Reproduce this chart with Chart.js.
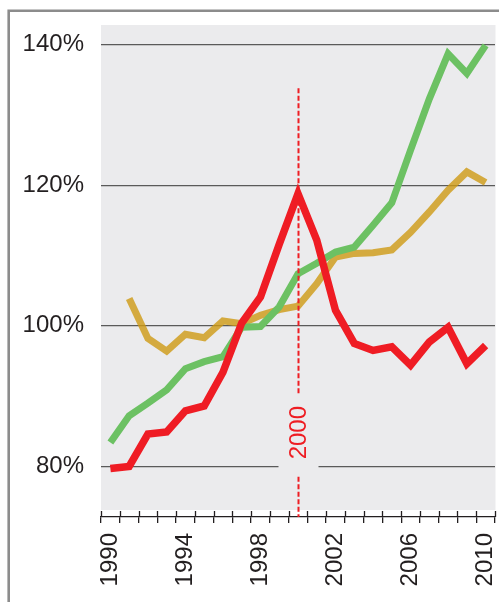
<!DOCTYPE html>
<html>
<head>
<meta charset="utf-8">
<script src="https://cdn.jsdelivr.net/npm/chart.js@4.4.1/dist/chart.umd.min.js"></script>
<style>
  html, body { margin: 0; padding: 0; background: #fff; }
  #wrap { width: 499px; height: 602px; }
</style>
</head>
<body>
<div id="wrap"><canvas id="grafica" width="499" height="602"></canvas></div>
<script>
// Años del eje X
const years = ['1990','1991','1992','1993','1994','1995','1996','1997','1998','1999','2000',
               '2001','2002','2003','2004','2005','2006','2007','2008','2009','2010'];
// Series (índice, %)
const redSeries = [79.7, 80.0, 84.6, 84.9, 87.9, 88.6, 93.4, 100.4, 104.1, 111.6, 118.8,
                   112.2, 102.2, 97.5, 96.5, 97.0, 94.4, 97.7, 99.8, 94.6, 97.2];
const greenSeries = [83.4, 87.2, 89.0, 90.9, 93.9, 94.9, 95.6, 99.8, 99.9, 102.7, 107.4,
                     108.9, 110.5, 111.2, 114.3, 117.5, 125.0, 132.3, 138.7, 135.9, 139.9];
const yellowSeries = [null, 103.9, 98.2, 96.4, 98.8, 98.3, 100.7, 100.3, 101.5, 102.3, 102.8,
                      106.0, 109.8, 110.3, 110.4, 110.8, 113.3, 116.2, 119.3, 121.9, 120.4];
// Marcas del eje Y
const yTicks = [80, 100, 120, 140];
const xLabelEvery = 4;
// Año señalado con la línea roja discontinua
const markYear = '2000';
const markTop = 133.8;      // valor donde empieza la línea
const markLabelValue = 84.8; // centro del texto

const fontFamily = '"Liberation Sans", Arial, sans-serif';
const plotBg = '#ebebed';

// Fondo gris, marco y anotación
const decor = {
    id: 'decor',
    beforeDraw(chart) {
        const { ctx, chartArea } = chart;
        ctx.save();
        ctx.fillStyle = plotBg;
        ctx.fillRect(chartArea.left, chartArea.top, chartArea.right - chartArea.left + 0.5,
                     chartArea.bottom - chartArea.top - 7);
        ctx.restore();
    },
    afterDatasetsDraw(chart) {
        const { ctx, chartArea } = chart;
        const xs = chart.scales.x, ys = chart.scales.y;
        const x = Math.round(xs.getPixelForValue(years.indexOf(markYear))) + 0.5;
        const y80 = ys.getPixelForValue(80);
        const yText = ys.getPixelForValue(markLabelValue);
        ctx.save();
        // hueco en la línea del 80%
        ctx.fillStyle = plotBg;
        ctx.fillRect(x - 20, y80 - 3, 40, 6);
        // línea discontinua
        ctx.strokeStyle = '#ee1d23';
        ctx.lineWidth = 2;
        ctx.setLineDash([5, 2.5]);
        ctx.beginPath();
        ctx.moveTo(x, ys.getPixelForValue(markTop));
        ctx.lineTo(x, yText - 38);
        ctx.moveTo(x, yText + 44);
        ctx.lineTo(x, chartArea.bottom);
        ctx.stroke();
        ctx.setLineDash([]);
        // texto
        ctx.translate(x, yText);
        ctx.rotate(-Math.PI / 2);
        ctx.fillStyle = '#ee1d23';
        ctx.font = '24px ' + fontFamily;
        ctx.textAlign = 'center';
        ctx.textBaseline = 'middle';
        ctx.fillText(markYear, 0, 1);
        ctx.restore();
    },
    afterDraw(chart) {
        const { ctx, chartArea } = chart;
        ctx.save();
        // parte superior de las marcas del eje X
        ctx.strokeStyle = '#231f20';
        ctx.lineWidth = 1.3;
        const step = (chartArea.right - chartArea.left) / years.length;
        ctx.beginPath();
        for (let i = 0; i <= years.length; i++) {
            const px = Math.round(chartArea.left + i * step) + 0.5;
            ctx.moveTo(px, chartArea.bottom);
            ctx.lineTo(px, chartArea.bottom - 6);
        }
        ctx.stroke();
        // marco exterior
        ctx.strokeStyle = '#8c8c8c';
        ctx.lineWidth = 2.6;
        ctx.beginPath();
        ctx.moveTo(8.7, 602);
        ctx.lineTo(8.7, 10.7);
        ctx.lineTo(499, 10.7);
        ctx.stroke();
        ctx.restore();
    }
};

const ctx = document.getElementById('grafica').getContext('2d');
new Chart(ctx, {
    type: 'line',
    data: {
        labels: years,
        datasets: [
            { data: redSeries, borderColor: '#ef1c24', borderWidth: 7.5, order: 1 },
            { data: greenSeries, borderColor: '#6cc163', borderWidth: 7, order: 2 },
            { data: yellowSeries, borderColor: 'rgba(206,154,19,0.8)', borderWidth: 7, order: 3 }
        ]
    },
    options: {
        responsive: false,
        animation: false,
        devicePixelRatio: 1,
        layout: { padding: { top: 25, right: 4, left: 0, bottom: 0 } },
        elements: {
            point: { radius: 0 },
            line: { tension: 0, borderCapStyle: 'butt', borderJoinStyle: 'miter', fill: false }
        },
        plugins: { legend: { display: false }, tooltip: { enabled: false } },
        scales: {
            x: {
                type: 'category',
                offset: true,
                afterFit(scale) {
                    scale.height = 85;
                    scale.paddingLeft = 0;
                    scale.paddingRight = 0;
                },
                border: { display: true, color: '#231f20', width: 1.3 },
                grid: { offset: true, drawOnChartArea: false, tickLength: 6, color: '#231f20', lineWidth: 1.3 },
                ticks: {
                    autoSkip: false,
                    minRotation: 90,
                    maxRotation: 90,
                    padding: 10,
                    color: '#231f20',
                    font: { family: fontFamily, size: 24 },
                    callback(value, index) {
                        return index % xLabelEvery === 0 ? years[index] : '';
                    }
                }
            },
            y: {
                min: 72.8,
                max: 142.8,
                afterFit(scale) {
                    scale.width = 101;
                    scale.paddingTop = 0;
                    scale.paddingBottom = 0;
                },
                afterBuildTicks(scale) { scale.ticks = yTicks.map(v => ({ value: v })); },
                border: { display: false },
                grid: { drawTicks: false, color: '#5a5a5a', lineWidth: 1.2 },
                ticks: {
                    padding: 17,
                    color: '#231f20',
                    font: { family: fontFamily, size: 24 },
                    callback: v => v + '%'
                }
            }
        }
    },
    plugins: [decor]
});
</script>
</body>
</html>
